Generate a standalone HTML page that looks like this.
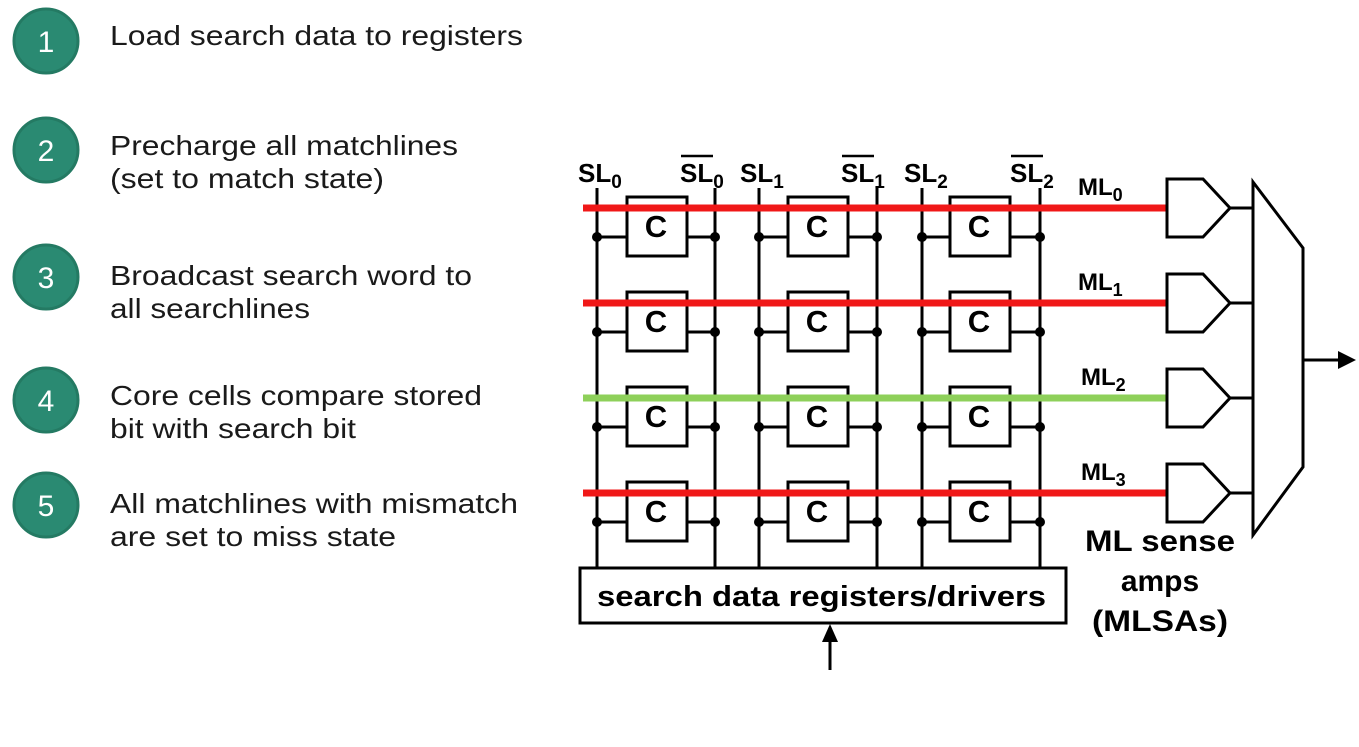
<!DOCTYPE html>
<html><head><meta charset="utf-8"><style>
body{margin:0;background:#fff;}
svg{display:block}
.t{font-family:"Liberation Sans",Arial,sans-serif;font-size:28px;fill:#1a1a1a}
.n{font-family:"Liberation Sans",Arial,sans-serif;font-size:30px;fill:#fff;text-anchor:middle}
.b{font-family:"Liberation Sans",Arial,sans-serif;font-weight:bold;fill:#000}
</style></head><body>
<svg width="1359" height="747" viewBox="0 0 1359 747" xmlns="http://www.w3.org/2000/svg">
<g fill="#2a8a72" stroke="#247a63" stroke-width="3">
<circle cx="46" cy="41" r="32"/><circle cx="46" cy="150" r="32"/><circle cx="46" cy="277" r="32"/><circle cx="46" cy="400" r="32"/><circle cx="46" cy="505" r="32"/>
</g>
<text class="n" x="46" y="52">1</text><text class="n" x="46" y="161">2</text><text class="n" x="46" y="288">3</text><text class="n" x="46" y="411">4</text><text class="n" x="46" y="516">5</text>
<text class="t" x="110" y="45" textLength="413" lengthAdjust="spacingAndGlyphs">Load search data to registers</text>
<text class="t" x="110" y="155" textLength="348" lengthAdjust="spacingAndGlyphs">Precharge all matchlines</text>
<text class="t" x="110" y="188" textLength="274" lengthAdjust="spacingAndGlyphs">(set to match state)</text>
<text class="t" x="110" y="285" textLength="362" lengthAdjust="spacingAndGlyphs">Broadcast search word to</text>
<text class="t" x="110" y="318" textLength="200" lengthAdjust="spacingAndGlyphs">all searchlines</text>
<text class="t" x="110" y="405" textLength="372" lengthAdjust="spacingAndGlyphs">Core cells compare stored</text>
<text class="t" x="110" y="438" textLength="246" lengthAdjust="spacingAndGlyphs">bit with search bit</text>
<text class="t" x="110" y="513" textLength="408" lengthAdjust="spacingAndGlyphs">All matchlines with mismatch</text>
<text class="t" x="110" y="546" textLength="286" lengthAdjust="spacingAndGlyphs">are set to miss state</text>

<g stroke="#000" stroke-width="3" fill="none">
<line x1="597" y1="188" x2="597" y2="568"/><line x1="715" y1="188" x2="715" y2="568"/>
<line x1="759" y1="188" x2="759" y2="568"/><line x1="877" y1="188" x2="877" y2="568"/>
<line x1="922" y1="188" x2="922" y2="568"/><line x1="1040" y1="188" x2="1040" y2="568"/>
<rect x="580" y="568" width="486" height="55" fill="#fff"/>
<line x1="830" y1="670" x2="830" y2="640"/>
</g>
<polygon points="830,624 822,642 838,642" fill="#000"/>
<g stroke="#000" stroke-width="3" fill="#fff">
<g id="r0">
<rect x="627" y="197" width="60" height="59"/><rect x="788" y="197" width="60" height="59"/><rect x="950" y="197" width="60" height="59"/>
<path d="M597 237H627M687 237H715M759 237H788M848 237H877M922 237H950M1010 237H1040" fill="none"/>
</g>
<use href="#r0" y="95"/><use href="#r0" y="190"/><use href="#r0" y="285"/>
</g>
<g fill="#000">
<g id="d0"><circle cx="597" cy="237" r="5"/><circle cx="715" cy="237" r="5"/><circle cx="759" cy="237" r="5"/><circle cx="877" cy="237" r="5"/><circle cx="922" cy="237" r="5"/><circle cx="1040" cy="237" r="5"/></g>
<use href="#d0" y="95"/><use href="#d0" y="190"/><use href="#d0" y="285"/>
</g>
<g class="b" font-size="31" text-anchor="middle">
<g id="c0"><text x="656" y="237">C</text><text x="817" y="237">C</text><text x="979" y="237">C</text></g>
<use href="#c0" y="95"/><use href="#c0" y="190"/><use href="#c0" y="285"/>
</g>
<g stroke-width="7">
<line x1="583" y1="208" x2="1168" y2="208" stroke="#f01818"/>
<line x1="583" y1="303" x2="1168" y2="303" stroke="#f01818"/>
<line x1="583" y1="398" x2="1168" y2="398" stroke="#8ed05a"/>
<line x1="583" y1="493" x2="1168" y2="493" stroke="#f01818"/>
</g>
<g stroke="#000" stroke-width="3" fill="#fff">
<g id="a0"><path d="M1167 179H1203L1230 208L1203 237H1167Z"/><line x1="1230" y1="208" x2="1253" y2="208"/></g>
<use href="#a0" y="95"/><use href="#a0" y="190"/><use href="#a0" y="285"/>
<path d="M1253 182L1303 248V467L1253 535Z"/>
<line x1="1303" y1="360" x2="1340" y2="360"/>
</g>
<polygon points="1356,360 1338,351 1338,369" fill="#000"/>
<g class="b" font-size="26">
<text x="578" y="182">SL<tspan font-size="19" dy="6">0</tspan></text>
<text x="680" y="182">SL<tspan font-size="19" dy="6">0</tspan></text>
<text x="740" y="182">SL<tspan font-size="19" dy="6">1</tspan></text>
<text x="841" y="182">SL<tspan font-size="19" dy="6">1</tspan></text>
<text x="904" y="182">SL<tspan font-size="19" dy="6">2</tspan></text>
<text x="1010" y="182">SL<tspan font-size="19" dy="6">2</tspan></text>
</g>
<g class="b" font-size="24">
<text x="1078" y="195">ML<tspan font-size="18" dy="6">0</tspan></text>
<text x="1078" y="290">ML<tspan font-size="18" dy="6">1</tspan></text>
<text x="1081" y="385">ML<tspan font-size="18" dy="6">2</tspan></text>
<text x="1081" y="480">ML<tspan font-size="18" dy="6">3</tspan></text>
</g>
<g stroke="#000" stroke-width="2.5">
<line x1="681" y1="156" x2="713" y2="156"/><line x1="842" y1="156" x2="874" y2="156"/><line x1="1011" y1="156" x2="1043" y2="156"/>
</g>
<text class="b" x="597" y="606" font-size="29" textLength="449" lengthAdjust="spacingAndGlyphs">search data registers/drivers</text>
<g class="b" font-size="30" text-anchor="middle">
<text x="1160" y="551" textLength="150" lengthAdjust="spacingAndGlyphs">ML sense</text><text x="1160" y="591">amps</text><text x="1160" y="631" textLength="136" lengthAdjust="spacingAndGlyphs">(MLSAs)</text>
</g>
</svg>
</body></html>
